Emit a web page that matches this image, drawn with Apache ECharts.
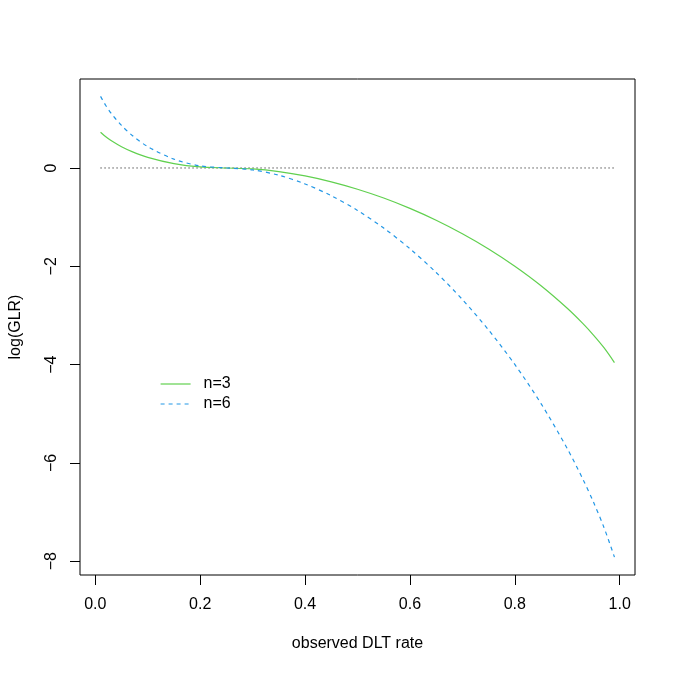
<!DOCTYPE html>
<html>
<head>
<meta charset="utf-8">
<script src="https://cdn.jsdelivr.net/npm/echarts@6/dist/echarts.min.js"></script>
<style>
  html, body { margin: 0; padding: 0; background: #fff; }
  #chart { width: 675px; height: 673px; }
</style>
</head>
<body>
<div id="chart"></div>
<script>
// observed DLT rate (x) and log(GLR)
const rate = [0.01, 0.02, 0.03, 0.05, 0.07, 0.1, 0.15, 0.2, 0.25, 0.3, 0.35, 0.4, 0.45, 0.5,
  0.55, 0.6, 0.65, 0.7, 0.75, 0.8, 0.85, 0.9, 0.93, 0.95, 0.97, 0.99]
const glrN3 = [0.728, 0.635, 0.558, 0.432, 0.333, 0.217, 0.089, 0.021, 0, -0.019, -0.074, -0.162, -0.282, -0.432,
  -0.611, -0.822, -1.063, -1.338, -1.648, -1.999, -2.396, -2.854, -3.167, -3.399, -3.656, -3.958]
const glrN6 = [1.456, 1.270, 1.115, 0.865, 0.666, 0.435, 0.179, 0.042, 0, -0.038, -0.148, -0.325, -0.564, -0.863,
  -1.223, -1.643, -2.126, -2.675, -3.296, -3.997, -4.793, -5.708, -6.335, -6.797, -7.312, -7.916]
const refLine = [[0.01, 0], [0.99, 0]]
const xTicks = [0, 0.2, 0.4, 0.6, 0.8, 1.0]
const yTicks = [-8, -6, -4, -2, 0]

const font = 'Liberation Sans, Arial, Helvetica, sans-serif'

function pairs (ys) {
  return rate.map((x, i) => [x, ys[i]])
}

let chart = echarts.init(document.getElementById('chart'), null, { renderer: 'canvas' })
chart.setOption({
  animation: false,
  backgroundColor: '#fff',
  grid: {
    left: 79, right: 40, top: 79, bottom: 98,
    show: true, borderColor: '#000', borderWidth: 1, backgroundColor: 'transparent'
  },
  legend: {
    orient: 'vertical',
    left: 160,
    top: 376,
    padding: 0,
    itemWidth: 30,
    itemHeight: 14,
    itemGap: 4,
    data: ['n=3', 'n=6'],
    itemStyle: { opacity: 0 },
    lineStyle: { width: 1.2 },
    textStyle: { fontFamily: font, fontSize: 16, color: '#000', padding: [0, 0, 0, 8] }
  },
  xAxis: {
    type: 'value',
    min: -0.0292,
    max: 1.0292,
    name: 'observed DLT rate',
    nameLocation: 'middle',
    nameGap: 61,
    nameTextStyle: { fontFamily: font, fontSize: 16, color: '#000' },
    splitLine: { show: false },
    axisLine: { show: false, onZero: false },
    axisTick: { show: true, length: 10, lineStyle: { color: '#000' }, customValues: xTicks },
    axisLabel: {
      margin: 22,
      fontFamily: font, fontSize: 16, color: '#000',
      customValues: xTicks,
      formatter: v => v.toFixed(1)
    }
  },
  yAxis: {
    type: 'value',
    min: -8.28,
    max: 1.81,
    name: 'log(GLR)',
    nameLocation: 'middle',
    nameRotate: 90,
    nameGap: 56,
    nameTextStyle: { fontFamily: font, fontSize: 16, color: '#000' },
    splitLine: { show: false },
    axisLine: { show: false, onZero: false },
    axisTick: { show: true, length: 10, lineStyle: { color: '#000' }, customValues: yTicks },
    axisLabel: {
      margin: 20,
      rotate: 90,
      fontFamily: font, fontSize: 16, color: '#000',
      customValues: yTicks,
      formatter: v => (v < 0 ? '\u2212' + Math.abs(v) : String(v))
    }
  },
  series: [
    {
      name: 'ref',
      type: 'line',
      data: refLine,
      symbol: 'none',
      silent: true,
      lineStyle: { color: '#000', width: 1, type: [1, 3] }
    },
    {
      name: 'n=3',
      type: 'line',
      data: pairs(glrN3),
      symbol: 'none',
      smooth: 0.3,
      color: '#61D04F',
      lineStyle: { color: '#61D04F', width: 1.2, type: 'solid' }
    },
    {
      name: 'n=6',
      type: 'line',
      data: pairs(glrN6),
      symbol: 'none',
      smooth: 0.3,
      color: '#2297E6',
      lineStyle: { color: '#2297E6', width: 1.2, type: [4, 4] }
    }
  ]
})
</script>
</body>
</html>
